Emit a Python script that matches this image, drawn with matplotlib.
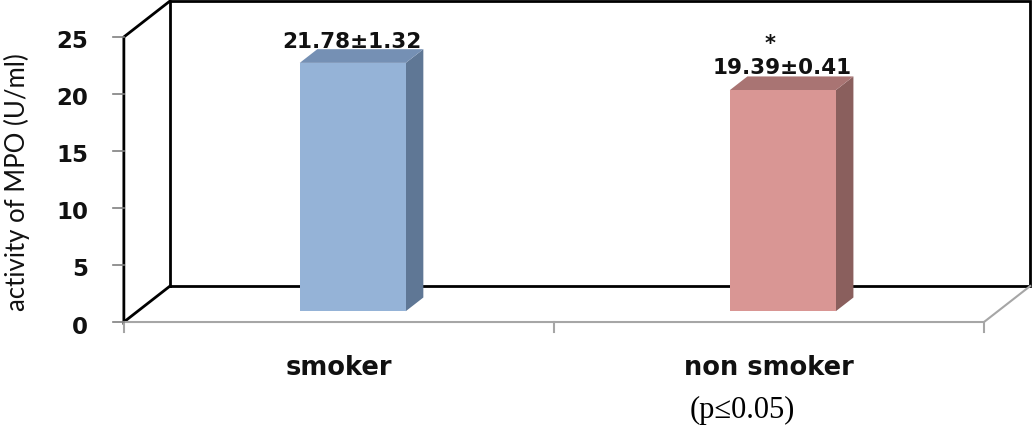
import matplotlib

matplotlib.use("Agg")
import matplotlib.pyplot as plt

# data
categories = ["smoker", "non smoker"]
values = [21.78, 19.39]
errors = [1.32, 0.41]
significance = ["", "*"]
y_ticks = [0, 5, 10, 15, 20, 25]
y_label = "activity of MPO (U/ml)"
p_note = "(p\u22640.05)"

front_colors = ["#95b3d7", "#d99694"]
top_colors = ["#7590b4", "#a97473"]
side_colors = ["#5f7795", "#8a5f5d"]

# fake-3D geometry (category units in x, value units in y)
DEPTH_X = 0.1075
DEPTH_Y = 3.16
BAR_W = 0.2465
F_FRONT = 0.30
F_BACK = 0.68
YMAX = 25

fig = plt.figure(figsize=(10.32, 4.27), dpi=100)
ax = fig.add_axes([0, 0, 1, 1])
ax.set_xlim(-0.788, 1.6116)
ax.set_ylim(-9.12, 28.33)
ax.axis("off")

x0, x1 = -0.5, len(categories) - 0.5

# back wall
ax.plot([x0 + DEPTH_X, x1 + DEPTH_X, x1 + DEPTH_X, x0 + DEPTH_X, x0 + DEPTH_X],
        [DEPTH_Y, DEPTH_Y, YMAX + DEPTH_Y, YMAX + DEPTH_Y, DEPTH_Y],
        color="black", lw=2.0, zorder=1, solid_joinstyle="miter")
# left wall
ax.plot([x0 + DEPTH_X, x0, x0, x0 + DEPTH_X],
        [DEPTH_Y, 0, YMAX, YMAX + DEPTH_Y],
        color="black", lw=2.0, zorder=1, solid_joinstyle="miter")
# floor
ax.plot([x0, x1, x1 + DEPTH_X], [0, 0, DEPTH_Y], color="#a6a6a6", lw=1.5, zorder=1)
for xt in [x0 + i for i in range(len(categories) + 1)]:
    ax.plot([xt, xt], [0, -0.85], color="#a6a6a6", lw=1.5, zorder=1)

# value axis ticks and labels
for t in y_ticks:
    ax.plot([x0 - 0.026, x0], [t, t], color="#808080", lw=1.2, zorder=1)
    ax.text(-0.583, t - 0.35, str(t), ha="right", va="center",
            fontsize=16.5, fontweight="bold", color="#111111")

ax.text(-0.748, 12.4, y_label, rotation=90, ha="center", va="center",
        fontsize=18.5, family=["Lato", "DejaVu Sans"], color="#111111")

# bars
for i, (v, e, s) in enumerate(zip(values, errors, significance)):
    fx = i + F_FRONT * DEPTH_X
    fy = F_FRONT * DEPTH_Y
    bx = i + F_BACK * DEPTH_X
    by = F_BACK * DEPTH_Y
    lft, rgt = fx - BAR_W / 2, fx + BAR_W / 2
    blft, brgt = bx - BAR_W / 2, bx + BAR_W / 2
    # side face
    ax.fill([rgt, brgt, brgt, rgt], [fy, by, by + v, fy + v],
            color=side_colors[i], lw=0, zorder=3)
    # top face
    ax.fill([lft, rgt, brgt, blft], [fy + v, fy + v, by + v, by + v],
            color=top_colors[i], lw=0, zorder=3)
    # front face
    ax.bar(fx, v, width=BAR_W, bottom=fy, color=front_colors[i], lw=0, zorder=4)

    lbl_y = v + (2.85 if not s else 3.0)
    ax.text(i + 0.03, lbl_y, f"{v:.2f}\u00b1{e:.2f}", ha="center", va="center",
            fontsize=15.5, fontweight="bold", color="#111111")
    if s:
        ax.text(i + 0.003, lbl_y + 2.1, s, ha="center", va="center",
                fontsize=15, fontweight="bold", color="#111111")

# category labels
for i, c in enumerate(categories):
    ax.text(i, -3.95, c, ha="center", va="center",
            fontsize=18.5, fontweight="bold", color="#111111")

ax.text(0.938, -7.65, p_note, ha="center", va="center", fontsize=22,
        family=["Liberation Serif", "DejaVu Serif"], color="black")

fig.savefig("out.png", dpi=100)
